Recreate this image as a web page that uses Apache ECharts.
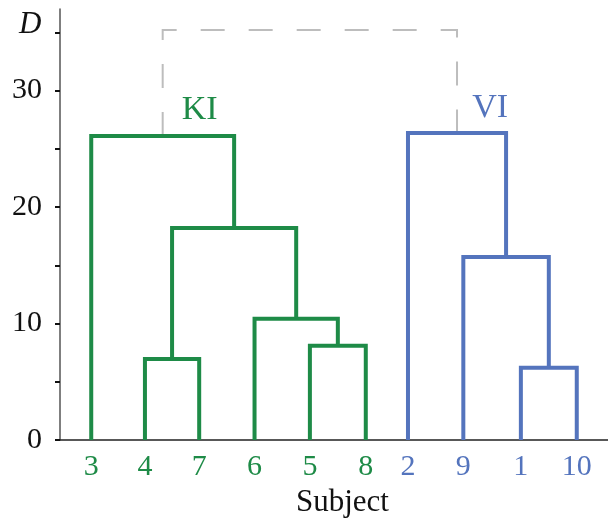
<!DOCTYPE html>
<html><head><meta charset="utf-8">
<script src="https://cdn.jsdelivr.net/npm/echarts@6/dist/echarts.min.js"></script>
<style>html,body{margin:0;padding:0;background:#fff}#c{width:608px;height:520px}</style>
</head><body><div id="c"></div>
<script>
// ---- data ----
const leafLabels = ['3','4','7','6','5','8','2','9','1','10'];
const leafX      = [0.57,1.55,2.54,3.55,4.56,5.58,6.35,7.36,8.41,9.43];
const leafGroup  = ['KI','KI','KI','KI','KI','KI','VI','VI','VI','VI'];
// merges: [childA, childB, height, group]; node ids: leaves 0..9, merges 10..
const mergeA      = [1, 4, 3, 10, 0, 8, 7, 6];
const mergeB      = [2, 5, 11, 12, 13, 9, 15, 16];
const mergeHeight = [6.95, 8.1, 10.4, 18.2, 26.1, 6.2, 15.7, 26.35];
const mergeGroup  = ['KI','KI','KI','KI','KI','VI','VI','VI'];
const topA = 14, topB = 17, topHeight = 35.2;
const groupNames = ['KI','VI'];
const groupLabelPos = [[2.55, 28.3],[7.85, 28.5]];
const yTicks = [0,5,10,15,20,25,30,35];
const yLabels = [0,10,20,30];

const colors = {KI:'#1e8b47', VI:'#5474bd'};
const FONT = 'Liberation Serif';

// compute node positions
const nodeX = leafX.slice(), nodeH = leafX.map(()=>0);
mergeA.forEach((a,i)=>{
  const b = mergeB[i];
  nodeX.push((nodeX[a]+nodeX[b])/2);
  nodeH.push(mergeHeight[i]);
});

const series = [];
// dashed top link
series.push({
  type:'line', symbol:'none', silent:true, z:1,
  lineStyle:{color:'#bdbdbd', width:2, type:[24,24], join:'miter', cap:'butt'},
  data:[[nodeX[topA],nodeH[topA]],[nodeX[topA],topHeight],[nodeX[topB],topHeight],[nodeX[topB],nodeH[topB]]]
});
mergeA.forEach((a,i)=>{
  const b = mergeB[i], h = mergeHeight[i];
  series.push({
    type:'line', symbol:'none', silent:true, z:3,
    lineStyle:{color:colors[mergeGroup[i]], width:4, join:'miter', cap:'butt'},
    data:[[nodeX[a],nodeH[a]],[nodeX[a],h],[nodeX[b],h],[nodeX[b],nodeH[b]]]
  });
});
series.push({
  type:'scatter', symbolSize:0, silent:true, itemStyle:{opacity:1},
  data: groupNames.map((g,i)=>({value:groupLabelPos[i], name:g})),
  label:{show:true, opacity:1, position:'inside', formatter:p=>'{'+p.name+'|'+p.name+'}',
    rich:{KI:{color:colors.KI,fontFamily:FONT,fontSize:34,opacity:1}, VI:{color:colors.VI,fontFamily:FONT,fontSize:34,opacity:1}}}
});

const chart = echarts.init(document.getElementById('c'), null, {renderer:'canvas'});
chart.setOption({
  animation:false,
  backgroundColor:'#fff',
  grid:{left:60, right:0, top:9, bottom:80},
  xAxis:{
    type:'value', min:0, max:10,
    axisLine:{show:true, onZero:false, lineStyle:{color:'#222', width:1.5}},
    axisTick:{show:false}, splitLine:{show:false},
    axisLabel:{
      customValues:leafX, margin:12,
      formatter:(v)=>{
        let idx = leafX.findIndex(x=>Math.abs(x-v)<1e-6);
        if(idx<0) return '';
        return '{'+leafGroup[idx]+'|'+leafLabels[idx]+'}';
      },
      rich:{KI:{color:colors.KI,fontFamily:FONT,fontSize:30}, VI:{color:colors.VI,fontFamily:FONT,fontSize:30}}
    }
  },
  yAxis:{
    type:'value', min:0, max:37,
    axisLine:{show:true, lineStyle:{color:'#555', width:1.5}},
    axisTick:{show:true, customValues:yTicks, length:5, lineStyle:{color:'#111', width:2}},
    splitLine:{show:false},
    axisLabel:{customValues:yLabels, margin:18, color:'#111', fontFamily:FONT, fontSize:30}
  },
  graphic:[
    {type:'text', left:19, top:9, style:{text:'D', fontFamily:FONT, fontStyle:'italic', fontSize:31, fill:'#111'}},
    {type:'text', left:296, top:487, style:{text:'Subject', fontFamily:FONT, fontSize:31, fill:'#111'}}
  ],
  series:series
});
</script></body></html>
